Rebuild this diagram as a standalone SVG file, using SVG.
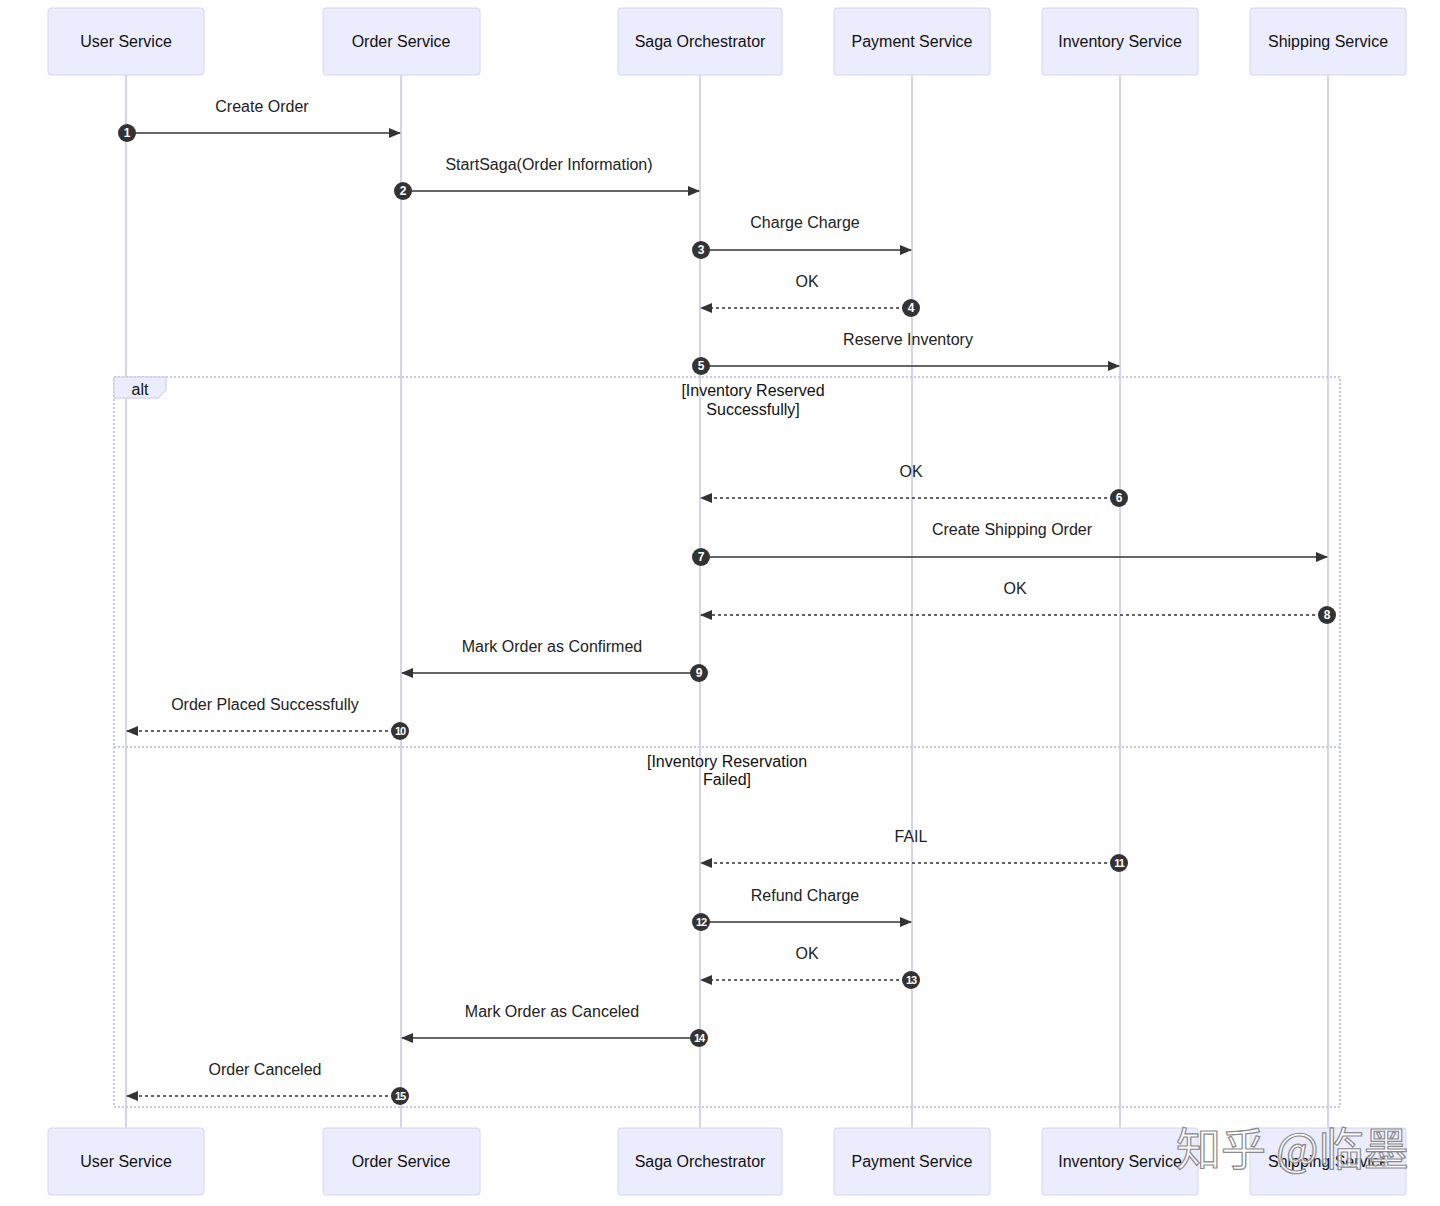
<svg xmlns="http://www.w3.org/2000/svg" width="1440" height="1206" viewBox="0 0 1440 1206">
<defs>
<marker id="arrow" viewBox="0 0 12 10" refX="11" refY="5" markerWidth="12" markerHeight="10" markerUnits="userSpaceOnUse" orient="auto">
<path d="M0,0 L12,5 L0,10 z" fill="#333"/>
</marker>
<style>
.actor{fill:#ececff;stroke:#d6d6ee;stroke-width:1}
.atext{font-family:"Liberation Sans","DejaVu Sans",sans-serif;font-size:16px;fill:#111;text-anchor:middle;dominant-baseline:central}
.life{stroke:#d4d4f0;stroke-width:2}
.msg{stroke:#333;stroke-width:1.5;fill:none;marker-end:url(#arrow)}
.dash{stroke-dasharray:3,3}
.mtext{font-family:"Liberation Sans","DejaVu Sans",sans-serif;font-size:16px;fill:#222;text-anchor:middle}
.num{fill:#333}
.ntext{font-family:"Liberation Sans","DejaVu Sans",sans-serif;font-size:12px;font-weight:bold;fill:#fff;text-anchor:middle;dominant-baseline:central}
.n2{font-size:11px;letter-spacing:-1px}
.loop{fill:none;stroke:#c8c8e0;stroke-width:2;stroke-dasharray:2,2}
.ltext{font-family:"Liberation Sans","DejaVu Sans",sans-serif;font-size:16px;fill:#111;text-anchor:middle}
</style>
</defs>
<rect width="1440" height="1206" fill="#ffffff"/>
<g id="lifelines">
<line class="life" x1="126" y1="75" x2="126" y2="1128"/>
<line class="life" x1="401" y1="75" x2="401" y2="1128"/>
<line class="life" x1="700" y1="75" x2="700" y2="1128"/>
<line class="life" x1="912" y1="75" x2="912" y2="1128"/>
<line class="life" x1="1120" y1="75" x2="1120" y2="1128"/>
<line class="life" x1="1328" y1="75" x2="1328" y2="1128"/>
</g>
<g id="alt-frame">
<rect class="loop" x="114" y="377" width="1226" height="730"/>
<line class="loop" x1="114" y1="747" x2="1340" y2="747"/>
<polygon points="114,377 166,377 166,390 158,398 114,398" fill="#ececff" stroke="#c8c8e0" stroke-width="1"/>
<text class="ltext" x="140" y="395">alt</text>
<text class="ltext" x="753" y="396">[Inventory Reserved</text>
<text class="ltext" x="753" y="415">Successfully]</text>
<text class="ltext" x="727" y="767">[Inventory Reservation</text>
<text class="ltext" x="727" y="785">Failed]</text>
</g>
<g id="user-top"><rect class="actor" x="48" y="8" width="156" height="67" rx="3"/><text class="atext" x="126" y="41.5">User Service</text></g>
<g id="order-top"><rect class="actor" x="323" y="8" width="157" height="67" rx="3"/><text class="atext" x="401" y="41.5">Order Service</text></g>
<g id="saga-top"><rect class="actor" x="618" y="8" width="164" height="67" rx="3"/><text class="atext" x="700" y="41.5">Saga Orchestrator</text></g>
<g id="payment-top"><rect class="actor" x="834" y="8" width="156" height="67" rx="3"/><text class="atext" x="912" y="41.5">Payment Service</text></g>
<g id="inventory-top"><rect class="actor" x="1042" y="8" width="156" height="67" rx="3"/><text class="atext" x="1120" y="41.5">Inventory Service</text></g>
<g id="shipping-top"><rect class="actor" x="1250" y="8" width="156" height="67" rx="3"/><text class="atext" x="1328" y="41.5">Shipping Service</text></g>
<g id="user-bottom"><rect class="actor" x="48" y="1128" width="156" height="67" rx="3"/><text class="atext" x="126" y="1161.5">User Service</text></g>
<g id="order-bottom"><rect class="actor" x="323" y="1128" width="157" height="67" rx="3"/><text class="atext" x="401" y="1161.5">Order Service</text></g>
<g id="saga-bottom"><rect class="actor" x="618" y="1128" width="164" height="67" rx="3"/><text class="atext" x="700" y="1161.5">Saga Orchestrator</text></g>
<g id="payment-bottom"><rect class="actor" x="834" y="1128" width="156" height="67" rx="3"/><text class="atext" x="912" y="1161.5">Payment Service</text></g>
<g id="inventory-bottom"><rect class="actor" x="1042" y="1128" width="156" height="67" rx="3"/><text class="atext" x="1120" y="1161.5">Inventory Service</text></g>
<g id="shipping-bottom"><rect class="actor" x="1250" y="1128" width="156" height="67" rx="3"/><text class="atext" x="1328" y="1161.5">Shipping Service</text></g>
<g id="connectors">
<line class="msg" x1="127" y1="133" x2="400" y2="133"/>
<line class="msg" x1="402" y1="191" x2="699" y2="191"/>
<line class="msg" x1="701" y1="250" x2="911" y2="250"/>
<line class="msg dash" x1="911" y1="308" x2="701" y2="308"/>
<line class="msg" x1="701" y1="366" x2="1119" y2="366"/>
<line class="msg dash" x1="1119" y1="498" x2="701" y2="498"/>
<line class="msg" x1="701" y1="557" x2="1327" y2="557"/>
<line class="msg dash" x1="1327" y1="615" x2="701" y2="615"/>
<line class="msg" x1="699" y1="673" x2="402" y2="673"/>
<line class="msg dash" x1="400" y1="731" x2="127" y2="731"/>
<line class="msg dash" x1="1119" y1="863" x2="701" y2="863"/>
<line class="msg" x1="701" y1="922" x2="911" y2="922"/>
<line class="msg dash" x1="911" y1="980" x2="701" y2="980"/>
<line class="msg" x1="699" y1="1038" x2="402" y2="1038"/>
<line class="msg dash" x1="400" y1="1096" x2="127" y2="1096"/>
<text class="mtext" x="262" y="112">Create Order</text>
<text class="mtext" x="549" y="170">StartSaga(Order Information)</text>
<text class="mtext" x="805" y="228">Charge Charge</text>
<text class="mtext" x="807" y="287">OK</text>
<text class="mtext" x="908" y="345">Reserve Inventory</text>
<text class="mtext" x="911" y="477">OK</text>
<text class="mtext" x="1012" y="535">Create Shipping Order</text>
<text class="mtext" x="1015" y="594">OK</text>
<text class="mtext" x="552" y="652">Mark Order as Confirmed</text>
<text class="mtext" x="265" y="710">Order Placed Successfully</text>
<text class="mtext" x="911" y="842">FAIL</text>
<text class="mtext" x="805" y="901">Refund Charge</text>
<text class="mtext" x="807" y="959">OK</text>
<text class="mtext" x="552" y="1017">Mark Order as Canceled</text>
<text class="mtext" x="265" y="1075">Order Canceled</text>
</g>
<g id="sequence-numbers">
<circle class="num" cx="127" cy="133" r="9"/><text class="ntext" x="127" y="133">1</text>
<circle class="num" cx="403" cy="191" r="9"/><text class="ntext" x="403" y="191">2</text>
<circle class="num" cx="701" cy="250" r="9"/><text class="ntext" x="701" y="250">3</text>
<circle class="num" cx="911" cy="308" r="9"/><text class="ntext" x="911" y="308">4</text>
<circle class="num" cx="701" cy="366" r="9"/><text class="ntext" x="701" y="366">5</text>
<circle class="num" cx="1119" cy="498" r="9"/><text class="ntext" x="1119" y="498">6</text>
<circle class="num" cx="701" cy="557" r="9"/><text class="ntext" x="701" y="557">7</text>
<circle class="num" cx="1327" cy="615" r="9"/><text class="ntext" x="1327" y="615">8</text>
<circle class="num" cx="699" cy="673" r="9"/><text class="ntext" x="699" y="673">9</text>
<circle class="num" cx="400" cy="731" r="9"/><text class="ntext n2" x="400" y="731">10</text>
<circle class="num" cx="1119" cy="863" r="9"/><text class="ntext n2" x="1119" y="863">11</text>
<circle class="num" cx="701" cy="922" r="9"/><text class="ntext n2" x="701" y="922">12</text>
<circle class="num" cx="911" cy="980" r="9"/><text class="ntext n2" x="911" y="980">13</text>
<circle class="num" cx="699" cy="1038" r="9"/><text class="ntext n2" x="699" y="1038">14</text>
<circle class="num" cx="400" cy="1096" r="9"/><text class="ntext n2" x="400" y="1096">15</text>
</g>
<g id="watermark">
<text x="1176" y="1166" font-family="'Noto Sans CJK SC','Noto Sans',sans-serif" font-size="45" fill="#ffffff" fill-opacity="0.75" stroke="#8a8a8a" stroke-width="1.2">知乎 @临墨</text>
</g>
</svg>
